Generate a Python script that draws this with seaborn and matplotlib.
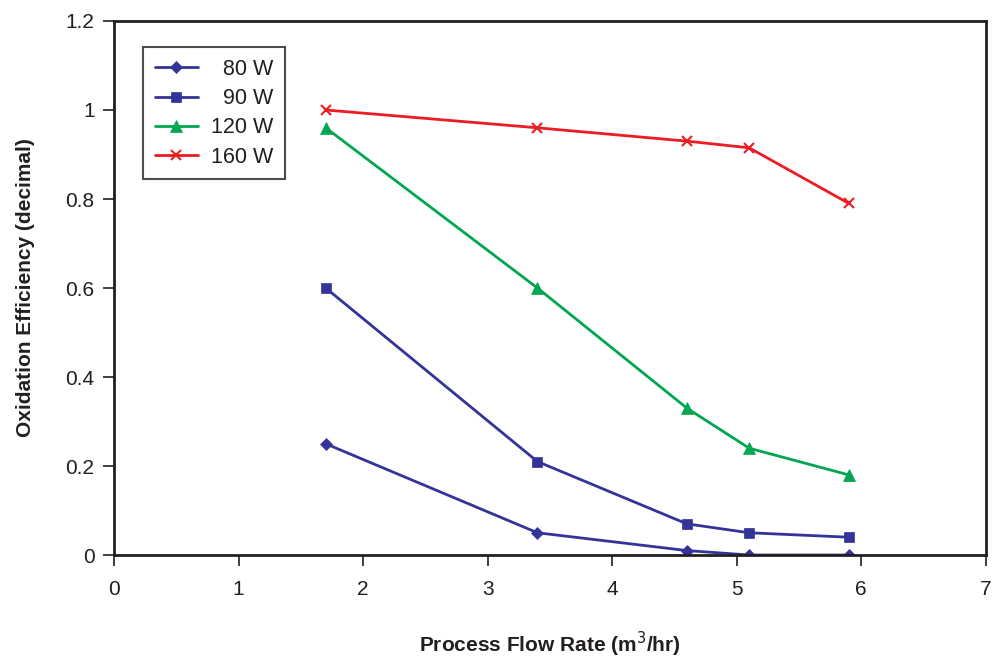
import pandas as pd
import matplotlib
matplotlib.use("Agg")
import matplotlib.pyplot as plt
import seaborn as sns

# Data
flow_rate = [1.7, 3.4, 4.6, 5.1, 5.9]
eff_80w = [0.25, 0.05, 0.01, 0.0, 0.0]
eff_90w = [0.60, 0.21, 0.07, 0.05, 0.04]
eff_120w = [0.96, 0.60, 0.33, 0.24, 0.18]
eff_160w = [1.00, 0.96, 0.93, 0.915, 0.79]
series_names = ["80 W", "90 W", "120 W", "160 W"]

frames = []
for name, vals in zip(series_names, [eff_80w, eff_90w, eff_120w, eff_160w]):
    frames.append(pd.DataFrame({"Flow": flow_rate, "Eff": vals, "Power": name}))
df = pd.concat(frames, ignore_index=True)

sns.set_style("white")
plt.rcParams["font.family"] = ["Liberation Sans Narrow", "Liberation Sans", "DejaVu Sans"]

palette = {"80 W": "#333399", "90 W": "#333399", "120 W": "#00a651", "160 W": "#ed1c24"}
markers = {"80 W": "D", "90 W": "s", "120 W": "^", "160 W": "x"}
sizes_m = {"80 W": 6.5, "90 W": 7.5, "120 W": 8.5, "160 W": 7}

fig = plt.figure(figsize=(9.93, 6.58), dpi=100)
ax = fig.add_axes([0.1148, 0.1565, 0.878, 0.8116])

for name in series_names:
    sub = df[df["Power"] == name]
    sns.lineplot(data=sub, x="Flow", y="Eff", ax=ax, color=palette[name],
                 marker=markers[name], markersize=sizes_m[name],
                 markeredgewidth=1.5 if name == "160 W" else 0.5,
                 markeredgecolor=palette[name], linewidth=2,
                 label="  " + name if len(name) == 4 else name)

ax.set_xlim(0, 7)
ax.set_ylim(0, 1.2)
ax.set_xticks(range(0, 8))
ax.set_yticks([0, 0.2, 0.4, 0.6, 0.8, 1.0, 1.2])
ax.set_yticklabels(["0", "0.2", "0.4", "0.6", "0.8", "1", "1.2"])

for s in ax.spines.values():
    s.set_color("#231f20")
    s.set_linewidth(2)

ax.tick_params(axis="both", direction="out", length=8, width=1.2, color="#231f20",
               labelsize=15, colors="#231f20", bottom=True, left=True)
ax.tick_params(axis="x", pad=10)
ax.tick_params(axis="y", pad=6)

ax.set_xlabel("Process Flow Rate (m$^3$/hr)", fontsize=15, fontweight="bold",
              color="#231f20", labelpad=22)
ax.set_ylabel("Oxidation Efficiency (decimal)", fontsize=15, fontweight="bold",
              color="#231f20", labelpad=22)

leg = ax.legend(loc="upper left", bbox_to_anchor=(0.033, 0.951), fontsize=15.5,
                frameon=True, fancybox=False, edgecolor="#231f20",
                borderpad=0.55, handlelength=2.0, handletextpad=0.6,
                labelspacing=0.38, borderaxespad=0)
leg.get_frame().set_linewidth(1.5)
for t in leg.get_texts():
    t.set_color("#231f20")

fig.savefig("out.png", dpi=100)
